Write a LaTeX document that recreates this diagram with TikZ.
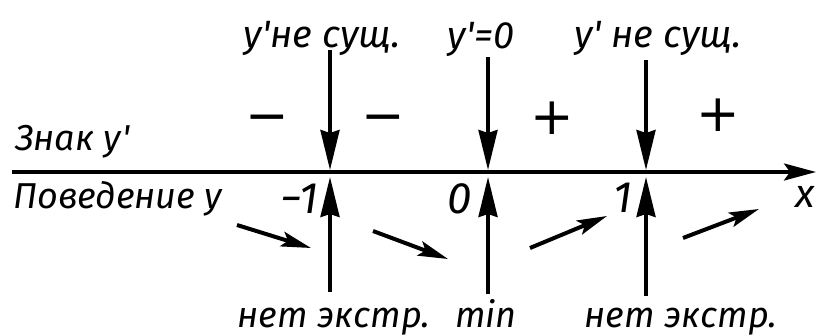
\documentclass[tikz,border=0pt]{standalone}
\usepackage{fontspec}
\newfontfamily\gost[Ligatures=TeXOff]{Fira Sans}
\newfontfamily\dvs{DejaVu Sans}
\newcommand{\prm}{\kern1pt'}
\usetikzlibrary{arrows.meta}
\begin{document}
\begin{tikzpicture}[x=1pt,y=-1pt,
  txt/.style={inner sep=0pt, anchor=base},
  toplbl/.style={txt, font=\gost\itshape\fontsize{38}{38}\selectfont},
  sidelbl/.style={txt, anchor=base west, font=\gost\itshape\fontsize{36}{36}\selectfont},
  numlbl/.style={txt, anchor=base east, font=\gost\itshape\fontsize{44}{44}\selectfont},
  botlbl/.style={txt, font=\gost\itshape\fontsize{36}{36}\selectfont},
  sign/.style={inner sep=0pt, font=\dvs\fontsize{52}{52}\selectfont},
  axis/.style={line width=3.5pt, -{Stealth[length=32pt,width=17pt,inset=6pt]}},
  vline/.style={line width=3.5pt, -{Stealth[length=40pt,width=19pt,inset=3pt]}},
  slope/.style={line width=4pt, -{Stealth[length=30pt,width=15pt,inset=6pt]}}
]
\useasboundingbox (0,0) rectangle (816,335);

% left captions
\node[sidelbl] (znak) at (15,150) {Знак y\prm};
\node[sidelbl] (pov) at (13,208) {Поведение y};

% axis
\coordinate (ax0) at (12,172);
\coordinate (ax1) at (816,172);
\draw[axis] (ax0) -- (ax1);
\node[txt, anchor=base east, font=\gost\itshape\fontsize{40}{40}\selectfont] (xl) at (815,207) {x};

% top labels
\node[toplbl] (t1) at (322,47) {y\prm не сущ.};
\node[toplbl] (t2) at (481,48) {y\prm=0};
\node[toplbl] (t3) at (658,47) {y\prm\ не сущ.};

% signs
\node[sign] (m1) at (267,124) {−};
\node[sign] (m2) at (383,124) {−};
\node[sign] (pl1) at (552,118) {+};
\node[sign] (pl2) at (718,115) {+};

% vertical arrows
\coordinate (d1s) at (330,50);  \coordinate (d1e) at (330,170);
\coordinate (d2s) at (488,57);  \coordinate (d2e) at (488,170);
\coordinate (d3s) at (646,60);  \coordinate (d3e) at (646,170);
\coordinate (u1s) at (330,292); \coordinate (u1e) at (330,177);
\coordinate (u2s) at (488,294); \coordinate (u2e) at (488,177);
\coordinate (u3s) at (646,296); \coordinate (u3e) at (646,177);
\draw[vline] (d1s) -- (d1e);
\draw[vline] (d2s) -- (d2e);
\draw[vline] (d3s) -- (d3e);
\draw[vline] (u1s) -- (u1e);
\draw[vline] (u2s) -- (u2e);
\draw[vline] (u3s) -- (u3e);

% numbers
\node[numlbl] (n1) at (318,213) {−1};
\node[numlbl] (n2) at (472,213) {0};
\node[numlbl] (n3) at (632,212) {1};

% behaviour arrows
\coordinate (s1a) at (237,225); \coordinate (s1b) at (311,248);
\coordinate (s2a) at (373,231); \coordinate (s2b) at (448,259);
\coordinate (s3a) at (530,248); \coordinate (s3b) at (607,216);
\coordinate (s4a) at (683,238); \coordinate (s4b) at (759,209);
\draw[slope] (s1a) -- (s1b);
\draw[slope] (s2a) -- (s2b);
\draw[slope] (s3a) -- (s3b);
\draw[slope] (s4a) -- (s4b);

% bottom labels
\node[botlbl] (b1) at (334,327) {нет экстр.};
\node[botlbl] (b2) at (486,327) {min};
\node[botlbl] (b3) at (681,327) {нет экстр.};
\end{tikzpicture}
\end{document}
